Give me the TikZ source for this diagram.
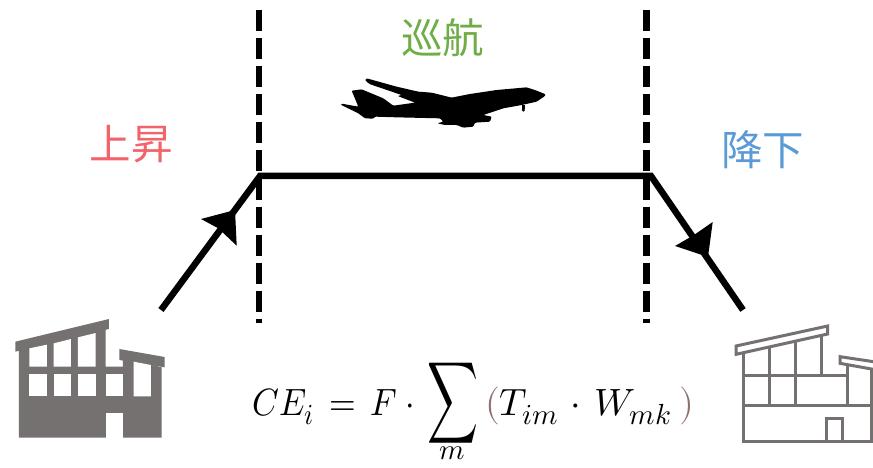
\documentclass[tikz,border=0pt]{standalone}
\usepackage{graphicx}
\usepackage{fontspec}
\usepackage{unicode-math}
\setmathfont{Latin Modern Math}
\newfontfamily\cjk{Noto Sans CJK JP}
\DeclareMathSizes{38}{38}{29}{22}
\definecolor{bldg}{HTML}{767171}
\definecolor{cruise}{HTML}{70AD47}
\definecolor{climb}{HTML}{F2636A}
\definecolor{descent}{HTML}{5B9BD5}
\definecolor{paren}{HTML}{8C6F6B}
\tikzset{
  phase/.style={font=\cjk\fontsize{41.5}{44}\selectfont,inner sep=0pt},
  vline/.style={line width=6.5pt,dash pattern=on 21pt off 7.1pt},
  route/.style={line width=6.5pt,line join=miter},
  head/.style={fill=black,draw=none},
  solidb/.style={fill=bldg,draw=none},
  hole/.style={fill=white,draw=none},
  wire/.style={draw=bldg,line width=3pt,fill=none,line join=miter},
  zoomscope/.style={x=0.33333pt,y=-0.33333pt},
  formula/.style={inner sep=0pt,font=\fontsize{38}{42}\selectfont}
}
\begin{document}
\begin{tikzpicture}[x=1pt,y=-1pt]
\useasboundingbox[fill=white] (0,0) rectangle (873,468);
% phase dividers
\coordinate (dla) at (259,10); \coordinate (dlb) at (259,323);
\coordinate (dra) at (646.7,10); \coordinate (drb) at (646.7,323);
\draw[vline] (dla) -- (dlb);
\draw[vline] (dra) -- (drb);
% route
\coordinate (r0) at (161,310); \coordinate (r1) at (260,176);
\coordinate (r2) at (651,176); \coordinate (r3) at (743,310);
\draw[route] (r0) -- (r1) -- (r2) -- (r3);
\fill[head] (201,219) -- (235,210) -- (236.7,245.7) -- (218.3,228.3) -- cycle;
\fill[head] (675,246) -- (694,235) -- (712.7,222) -- (708,257) -- cycle;
% labels
\node[phase,text=cruise] (cruiseL) at (442.5,37.5) {巡航};
\node[phase,text=climb] (climbL) at (131,144.5) {上昇};
\node[phase,text=descent] (descentL) at (762.5,150) {降下};
% aeroplane
\begin{scope}[shift={(330,60)},zoomscope]
\fill[black,rounded corners=1pt] (647,103) -- (620,92) -- (590,82) -- (500,90) -- (420,102) -- (365,113) -- (305,98) -- (265,95) -- (200,80) -- (110,55) -- (105,60) -- (118,72) -- (200,100) -- (215,105) -- (203,108) -- (255,128) -- (190,137) -- (160,115) -- (95,88) -- (65,92) -- (85,140) -- (35,131) -- (32,134) -- (85,160) -- (105,175) -- (130,176) -- (135,170) -- (200,172) -- (330,175) -- (340,185) -- (322,190) -- (345,195) -- (380,195) -- (400,203) -- (430,200) -- (435,188) -- (480,185) -- (485,170) -- (460,165) -- (520,145) -- (575,135) -- (620,125) -- (645,108) -- cycle;
\fill[black] (576,135) rectangle (584,148);
\fill[black] (580,150) circle (5);
\end{scope}
% left factory
\begin{scope}[shift={(0,310)},zoomscope]
\fill[solidb] (57,120) -- (317,57) -- (317,170) -- (369,170) -- (369,150) -- (401,150) -- (485,172) -- (485,383) -- (57,383) -- cycle;
\fill[solidb] (46,95) -- (327,27) -- (327,57) -- (46,125) -- cycle;
\fill[solidb] (358,117) -- (494,141) -- (494,172) -- (358,150) -- cycle;
\fill[hole] (88,115) -- (141,104) -- (141,170) -- (88,170) -- cycle;
\fill[hole] (161,100) -- (213,87) -- (213,170) -- (161,170) -- cycle;
\fill[hole] (234,82) -- (287,69) -- (287,170) -- (234,170) -- cycle;
\fill[hole] (88,191) rectangle (141,259);
\fill[hole] (161,191) rectangle (213,259);
\fill[hole] (234,191) rectangle (287,259);
\fill[hole] (317,191) rectangle (369,259);
\fill[hole] (401,155) -- (453,165) -- (453,259) -- (401,259) -- cycle;
\fill[hole] (317,310) rectangle (369,383);
\end{scope}
% right factory
\begin{scope}[shift={(720,310)},zoomscope]
\draw[wire] (48,108) -- (323,48) -- (323,72) -- (48,133) -- cycle;
\draw[wire] (460,155) -- (360,140) -- (360,160) -- (460,178);
\draw[wire] (71,128) -- (71,395) -- (455,395) -- (455,178);
\draw[wire] (148,113) -- (148,285);
\draw[wire] (227,95) -- (227,285);
\draw[wire] (305,78) -- (305,197);
\draw[wire] (382,165) -- (382,285);
\draw[wire] (71,197) -- (382,197);
\draw[wire] (71,285) -- (455,285);
\draw[wire] (320,395) -- (320,326) -- (368,326) -- (368,395);
\end{scope}
% formula
\node[formula,anchor=base west] (eqL) at (252,415) {\scalebox{.9}[1]{$CE_i \mkern8mu{=}\mkern8mu F \mkern4mu{\cdot}$}};
\node[formula] (eqS) at (452.5,403) {\resizebox*{51pt}{80pt}{$\displaystyle\sum$}};
\node[formula,anchor=base] (eqM) at (452,459) {$\scriptstyle m$};
\node[formula,anchor=base west] (eqR) at (485,415) {$\textcolor{paren}{(}T_{im} \mkern6mu{\cdot}\mkern6mu W_{mk}\mkern4mu\textcolor{paren}{)}$};
\end{tikzpicture}
\end{document}
